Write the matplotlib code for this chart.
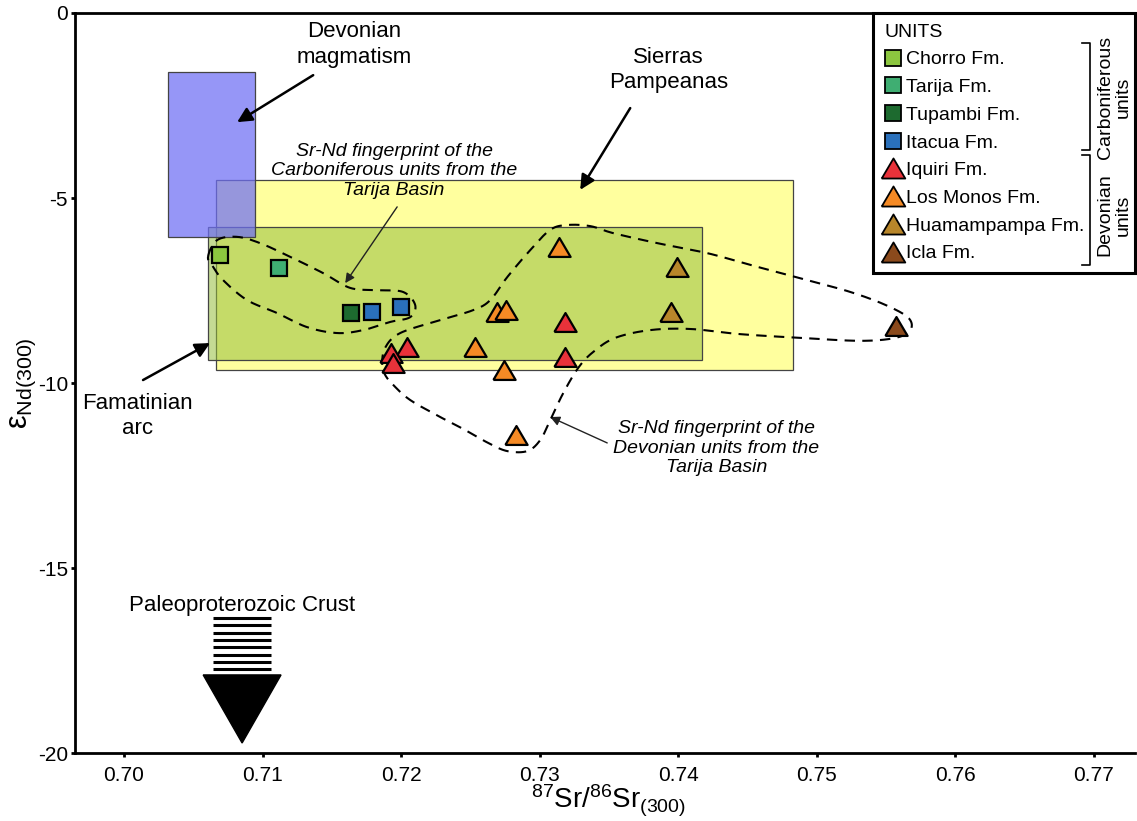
import numpy as np
import matplotlib
matplotlib.use('Agg')
from matplotlib import pyplot as plt
from matplotlib.patches import Rectangle, Polygon
from matplotlib.lines import Line2D

plt.rcParams['font.family'] = ['Liberation Sans', 'DejaVu Sans']
plt.rcParams['mathtext.default'] = 'regular'

# Sr-Nd isotope data, per unit: 87Sr/86Sr(300) and eNd(300)
chorro_sr = [0.7069]
chorro_nd = [-6.54]
tarija_sr = [0.7112]
tarija_nd = [-6.90]
tupambi_sr = [0.7164]
tupambi_nd = [-8.12]
itacua_sr = [0.7179, 0.7200]
itacua_nd = [-8.07, -7.95]
iquiri_sr = [0.7204, 0.7193, 0.7194, 0.7318, 0.7318]
iquiri_nd = [-9.02, -9.20, -9.47, -8.34, -9.29]
monos_sr = [0.7314, 0.7269, 0.7276, 0.7253, 0.7274, 0.7283]
monos_nd = [-6.32, -8.07, -8.03, -9.02, -9.65, -11.41]
huama_sr = [0.7399, 0.7395]
huama_nd = [-6.86, -8.07]
icla_sr = [0.7557]
icla_nd = [-8.45]

# reference fields (Sr min, Sr max, Nd min, Nd max)
devonian_magmatism = (0.70318, 0.70946, -6.05, -1.59)
sierras_pampeanas = (0.70664, 0.74830, -9.65, -4.51)
famatinian_arc = (0.70606, 0.74173, -9.38, -5.78)

# fingerprint envelopes
carb_env_sr = [0.70606, 0.70671, 0.70816, 0.70982, 0.71199, 0.71437, 0.71632,
               0.71827, 0.72014, 0.72101, 0.72065, 0.71921, 0.71726, 0.71538,
               0.71321, 0.71105, 0.70888, 0.70715, 0.70643]
carb_env_nd = [-6.59, -6.14, -6.05, -6.22, -6.59, -7.03, -7.43, -7.49, -7.54,
               -7.89, -8.22, -8.35, -8.57, -8.65, -8.49, -8.11, -7.76, -7.22,
               -6.86]
dev_env_sr = [0.71863, 0.71884, 0.71993, 0.72282, 0.72520, 0.72643, 0.72765,
              0.72931, 0.73076, 0.73199, 0.73365, 0.73531, 0.73848, 0.74209,
              0.74570, 0.74931, 0.75242, 0.75495, 0.75661, 0.75675, 0.75567,
              0.75314, 0.74881, 0.74448, 0.74087, 0.73798, 0.73545, 0.73386,
              0.73278, 0.73170, 0.73076, 0.73004, 0.72910, 0.72765, 0.72628,
              0.72462, 0.72282, 0.72065, 0.71942, 0.71884]
dev_env_nd = [-9.51, -9.05, -8.65, -8.30, -8.03, -7.76, -7.14, -6.41, -5.86,
              -5.73, -5.76, -5.95, -6.22, -6.49, -6.86, -7.22, -7.54, -7.89,
              -8.24, -8.57, -8.78, -8.86, -8.78, -8.68, -8.54, -8.57, -8.78,
              -9.16, -9.59, -10.27, -11.0, -11.54, -11.84, -11.84, -11.62,
              -11.27, -10.92, -10.46, -10.05, -9.78]

# Paleoproterozoic crust arrow (Sr position, top of bars, triangle top, tip)
crust_sr = 0.70852
crust_bar_top = -16.35
crust_tri_top = -17.89
crust_tip = -19.73


def closed_spline(xs, ys, n=24):
    # periodic Catmull-Rom through the envelope vertices
    p = np.column_stack([xs, ys])
    m = len(p)
    t = np.linspace(0, 1, n, endpoint=False)[:, None]
    segs = []
    for i in range(m):
        p0, p1, p2, p3 = p[i - 1], p[i], p[(i + 1) % m], p[(i + 2) % m]
        segs.append(0.5 * (2 * p1 + (-p0 + p2) * t
                           + (2 * p0 - 5 * p1 + 4 * p2 - p3) * t ** 2
                           + (-p0 + 3 * p1 - 3 * p2 + p3) * t ** 3))
    out = np.vstack(segs + [segs[0][:1]])
    return out[:, 0], out[:, 1]


fig = plt.figure(figsize=(11.37, 8.21), dpi=100)
ax = fig.add_axes([75 / 1137, 1 - 753 / 821, 1060 / 1137, 740 / 821])
ax.set_xlim(0.69646, 0.77296)
ax.set_ylim(-20, 0)

# fields
def field(box, fc, alpha, z):
    x0, x1, y0, y1 = box
    ax.add_patch(Rectangle((x0, y0), x1 - x0, y1 - y0, facecolor=fc, alpha=alpha,
                           edgecolor='none', zorder=z))
    ax.add_patch(Rectangle((x0, y0), x1 - x0, y1 - y0, facecolor='none',
                           edgecolor='#444444', lw=0.9, zorder=z))

field(sierras_pampeanas, '#ffff9e', 1.0, 1)
field(famatinian_arc, '#96be3c', 0.55, 2)
field(devonian_magmatism, '#6e6ef5', 0.72, 3)

# fingerprint envelopes
for ex, ey in [(carb_env_sr, carb_env_nd), (dev_env_sr, dev_env_nd)]:
    sx, sy = closed_spline(ex, ey)
    ax.plot(sx, sy, color='black', lw=1.5, ls=(0, (5, 3.5)), zorder=4)

tri = [(-1, -0.85), (1, -0.85), (0, 0.85), (-1, -0.85)]
units = [
    ('Chorro Fm.', chorro_sr, chorro_nd, 's', '#8cc63f'),
    ('Tarija Fm.', tarija_sr, tarija_nd, 's', '#3fae72'),
    ('Tupambi Fm.', tupambi_sr, tupambi_nd, 's', '#1d6a2f'),
    ('Itacua Fm.', itacua_sr, itacua_nd, 's', '#2a70bb'),
    ('Iquiri Fm.', iquiri_sr, iquiri_nd, tri, '#e8323a'),
    ('Los Monos Fm.', monos_sr, monos_nd, tri, '#f58a25'),
    ('Huamampampa Fm.', huama_sr, huama_nd, tri, '#b8862a'),
    ('Icla Fm.', icla_sr, icla_nd, tri, '#8b4a1c'),
]
handles = []
for name, xs, ys, mk, col in units:
    ms = 12 if mk == 's' else 16
    ax.plot(xs, ys, ls='none', marker=mk, ms=ms, mfc=col, mec='black',
            mew=1.6, zorder=5)
    handles.append(Line2D([], [], ls='none', marker=mk, ms=11 if mk == 's' else 17,
                          mfc=col, mec='black', mew=1.3))

# Paleoproterozoic crust arrow
half_bar = 0.00209
half_tri = 0.00281
ax.hlines(np.linspace(crust_bar_top, crust_tri_top - 0.05, 9),
          crust_sr - half_bar, crust_sr + half_bar, color='black', lw=2.2, zorder=4)
ax.add_patch(Polygon([(crust_sr - half_tri, crust_tri_top),
                      (crust_sr + half_tri, crust_tri_top),
                      (crust_sr, crust_tip)], closed=True, color='black', zorder=4))
ax.text(crust_sr, -16.0, 'Paleoproterozoic Crust', fontsize=16,
        ha='center', va='center')

# labels and arrows
big = dict(arrowstyle='-|>', color='black', lw=1.8, mutation_scale=22,
           shrinkA=0, shrinkB=0)
thin = dict(arrowstyle='-|>', color='#222222', lw=1.0, mutation_scale=14,
            shrinkA=0, shrinkB=0)
ax.text(0.71661, -0.86, 'Devonian\nmagmatism', fontsize=16, ha='center',
        va='center', linespacing=1.3)
ax.annotate('', xy=(0.70816, -2.95), xytext=(0.71365, -1.68), arrowprops=big)
ax.text(0.73928, -1.54, 'Sierras\nPampeanas', fontsize=16, ha='center',
        va='center', linespacing=1.3)
ax.annotate('', xy=(0.73292, -4.78), xytext=(0.73653, -2.57), arrowprops=big)
ax.text(0.70094, -10.89, 'Famatinian\narc', fontsize=16, ha='center',
        va='center', linespacing=1.3)
ax.annotate('', xy=(0.70621, -8.92), xytext=(0.70137, -9.92), arrowprops=big)
ax.text(0.71949, -4.27,
        'Sr-Nd fingerprint of the\nCarboniferous units from the\nTarija Basin',
        fontsize=14, style='italic', ha='center', va='center', linespacing=1.2)
ax.annotate('', xy=(0.71596, -7.30), xytext=(0.71971, -5.24), arrowprops=thin)
ax.text(0.74274, -11.76,
        'Sr-Nd fingerprint of the\nDevonian units from the\nTarija Basin',
        fontsize=14, style='italic', ha='center', va='center', linespacing=1.2)
ax.annotate('', xy=(0.73076, -10.92), xytext=(0.73487, -11.62), arrowprops=thin)

# axes styling
ax.spines['right'].set_visible(False)
for s in ['left', 'bottom', 'top']:
    ax.spines[s].set_linewidth(2.0)
ax.set_xticks(np.arange(0.70, 0.7705, 0.01))
ax.set_xticklabels(['%.2f' % v for v in np.arange(0.70, 0.7705, 0.01)])
ax.set_yticks([0, -5, -10, -15, -20])
ax.set_yticklabels(['0', '-5', '-10', '-15', '-20'])
ax.tick_params(direction='out', length=3, width=2, labelsize=15)
ax.tick_params(axis='y', pad=2)
ax.tick_params(axis='x', pad=6)
ax.set_xlabel(r'$^{87}$Sr/$^{86}$Sr$_{(300)}$', fontsize=20)
ax.set_ylabel(r'ε$_{Nd(300)}$', fontsize=22)
ax.yaxis.set_label_coords(-0.035, 0.5)
ax.xaxis.set_label_coords(0.503, -0.04)

# legend with unit groups
leg = ax.legend(handles, [u[0] for u in units], title='UNITS', loc='upper left',
                bbox_to_anchor=(0.7533, 1.0, 0.2467, 0), mode='expand',
                alignment='left', fontsize=14, title_fontsize=14, frameon=True,
                fancybox=False, edgecolor='black', framealpha=1, borderpad=0.55,
                borderaxespad=0, handlelength=0.9, handletextpad=0.2,
                labelspacing=0.52)
leg.get_frame().set_linewidth(2.2)
leg.set_zorder(10)

bx = 0.9576
for y0, y1 in [(0.9595, 0.8149), (0.8081, 0.6595)]:
    ax.plot([bx - 0.008, bx, bx, bx - 0.008], [y0, y0, y1, y1],
            transform=ax.transAxes, color='black', lw=1.2, zorder=11,
            clip_on=False)
ax.text(0.9802, 0.8865, 'Carboniferous\nunits', transform=ax.transAxes,
        rotation=90, fontsize=14, ha='center', va='center', zorder=11,
        linespacing=1.05)
ax.text(0.9802, 0.727, 'Devonian\nunits', transform=ax.transAxes,
        rotation=90, fontsize=14, ha='center', va='center', zorder=11,
        linespacing=1.05)

fig.savefig('out.png', dpi=100)
